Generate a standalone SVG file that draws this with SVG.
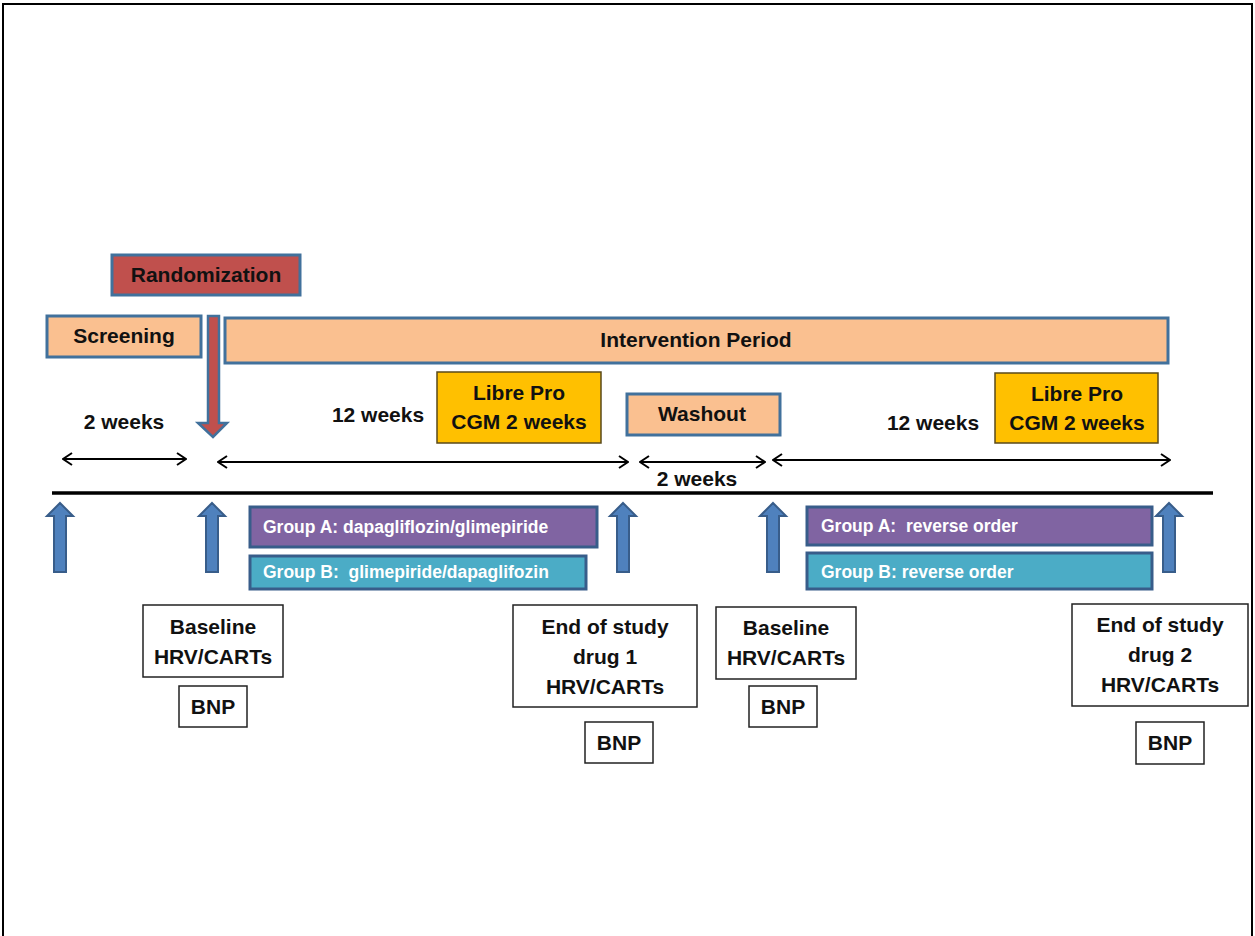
<svg xmlns="http://www.w3.org/2000/svg" width="1255" height="936" viewBox="0 0 1255 936">
<style>
.t{font-family:"Liberation Sans",Arial,sans-serif;font-weight:bold;fill:#111;font-size:21px;text-anchor:middle}
.s{font-family:"Liberation Sans",Arial,sans-serif;font-weight:bold;fill:#fff;font-size:17.5px;white-space:pre}
.peach{fill:#FAC090;stroke:#41719C;stroke-width:3}
.gold{fill:#FFC000;stroke:#5a4a1a;stroke-width:1.5}
.grpA{fill:#8064A2;stroke:#385D8A;stroke-width:3}
.grpB{fill:#4BACC6;stroke:#385D8A;stroke-width:3}
.wb{fill:#fff;stroke:#222;stroke-width:1.5}
.up{fill:#4F81BD;stroke:#385D8A;stroke-width:2}
.dbl{stroke:#000;stroke-width:2;fill:none;marker-start:url(#chev);marker-end:url(#chev)}
</style>
<defs>
<marker id="chev" viewBox="0 0 14 14" refX="13" refY="7" markerWidth="14" markerHeight="14" markerUnits="userSpaceOnUse" orient="auto-start-reverse">
<polyline points="4,1 13,7 4,13" fill="none" stroke="#000" stroke-width="2"/>
</marker>
<path id="uparr" d="M0,0 L13,13 L6,13 L6,69 L-6,69 L-6,13 L-13,13 Z"/>
</defs>
<rect x="0" y="0" width="1255" height="936" fill="#fff"/>
<path d="M3,940 L3,4 L1252,4 L1252,940" fill="none" stroke="#000" stroke-width="2"/>

<g id="randomization">
<rect x="112" y="255" width="188" height="40" fill="#C0504D" stroke="#41719C" stroke-width="3"/>
<text class="t" x="206" y="282">Randomization</text>
</g>
<g id="screening">
<rect class="peach" x="47" y="316" width="154" height="41"/>
<text class="t" x="124" y="343">Screening</text>
</g>
<g id="randomization-arrow">
<path d="M208,316 L219,316 L219,423 L227,423 L213,437 L198,423 L208,423 Z" fill="#C0504D" stroke="#41719C" stroke-width="2.5"/>
</g>
<g id="intervention">
<rect class="peach" x="225" y="318" width="943" height="45"/>
<text class="t" x="696" y="347">Intervention Period</text>
</g>
<g id="libre1">
<rect class="gold" x="437" y="372" width="164" height="71"/>
<text class="t" x="519" y="400">Libre Pro</text>
<text class="t" x="519" y="429">CGM 2 weeks</text>
</g>
<g id="washout">
<rect class="peach" x="627" y="394" width="153" height="41"/>
<text class="t" x="702" y="421">Washout</text>
</g>
<g id="libre2">
<rect class="gold" x="995" y="373" width="163" height="70"/>
<text class="t" x="1077" y="401">Libre Pro</text>
<text class="t" x="1077" y="430">CGM 2 weeks</text>
</g>
<g id="labels">
<text class="t" x="124" y="429">2 weeks</text>
<text class="t" x="378" y="422">12 weeks</text>
<text class="t" x="933" y="430">12 weeks</text>
<text class="t" x="697" y="486">2 weeks</text>
</g>

<g id="connectors">
<line class="dbl" x1="63" y1="459" x2="186" y2="459"/>
<line class="dbl" x1="218" y1="462" x2="628" y2="462"/>
<line class="dbl" x1="640" y1="462" x2="765" y2="462"/>
<line class="dbl" x1="773" y1="460" x2="1170" y2="460"/>
<line x1="52" y1="493" x2="1213" y2="493" stroke="#000" stroke-width="3.5"/>
<use href="#uparr" class="up" x="60" y="503"/>
<use href="#uparr" class="up" x="212" y="503"/>
<use href="#uparr" class="up" x="623" y="503"/>
<use href="#uparr" class="up" x="773" y="503"/>
<use href="#uparr" class="up" x="1169" y="503"/>
</g>

<g id="groupA1">
<rect class="grpA" x="250" y="507" width="347" height="40"/>
<text class="s" x="263" y="533">Group A: dapagliflozin/glimepiride</text>
</g>
<g id="groupB1">
<rect class="grpB" x="250" y="556" width="336" height="33"/>
<text class="s" x="263" y="578" xml:space="preserve">Group B:  glimepiride/dapaglifozin</text>
</g>
<g id="groupA2">
<rect class="grpA" x="807" y="507" width="345" height="38"/>
<text class="s" x="821" y="532" xml:space="preserve">Group A:  reverse order</text>
</g>
<g id="groupB2">
<rect class="grpB" x="807" y="553" width="345" height="36"/>
<text class="s" x="821" y="578">Group B: reverse order</text>
</g>

<g id="baseline1">
<rect class="wb" x="143" y="605" width="140" height="72"/>
<text class="t" x="213" y="634">Baseline</text>
<text class="t" x="213" y="664">HRV/CARTs</text>
</g>
<g id="bnp1">
<rect class="wb" x="179" y="686" width="68" height="41"/>
<text class="t" x="213" y="714">BNP</text>
</g>
<g id="end1">
<rect class="wb" x="513" y="605" width="184" height="102"/>
<text class="t" x="605" y="634">End of study</text>
<text class="t" x="605" y="664">drug 1</text>
<text class="t" x="605" y="694">HRV/CARTs</text>
</g>
<g id="bnp2">
<rect class="wb" x="585" y="722" width="68" height="41"/>
<text class="t" x="619" y="750">BNP</text>
</g>
<g id="baseline2">
<rect class="wb" x="716" y="607" width="140" height="72"/>
<text class="t" x="786" y="635">Baseline</text>
<text class="t" x="786" y="665">HRV/CARTs</text>
</g>
<g id="bnp3">
<rect class="wb" x="749" y="686" width="68" height="41"/>
<text class="t" x="783" y="714">BNP</text>
</g>
<g id="end2">
<rect class="wb" x="1072" y="604" width="176" height="102"/>
<text class="t" x="1160" y="632">End of study</text>
<text class="t" x="1160" y="662">drug 2</text>
<text class="t" x="1160" y="692">HRV/CARTs</text>
</g>
<g id="bnp4">
<rect class="wb" x="1136" y="722" width="68" height="42"/>
<text class="t" x="1170" y="750">BNP</text>
</g>
</svg>
